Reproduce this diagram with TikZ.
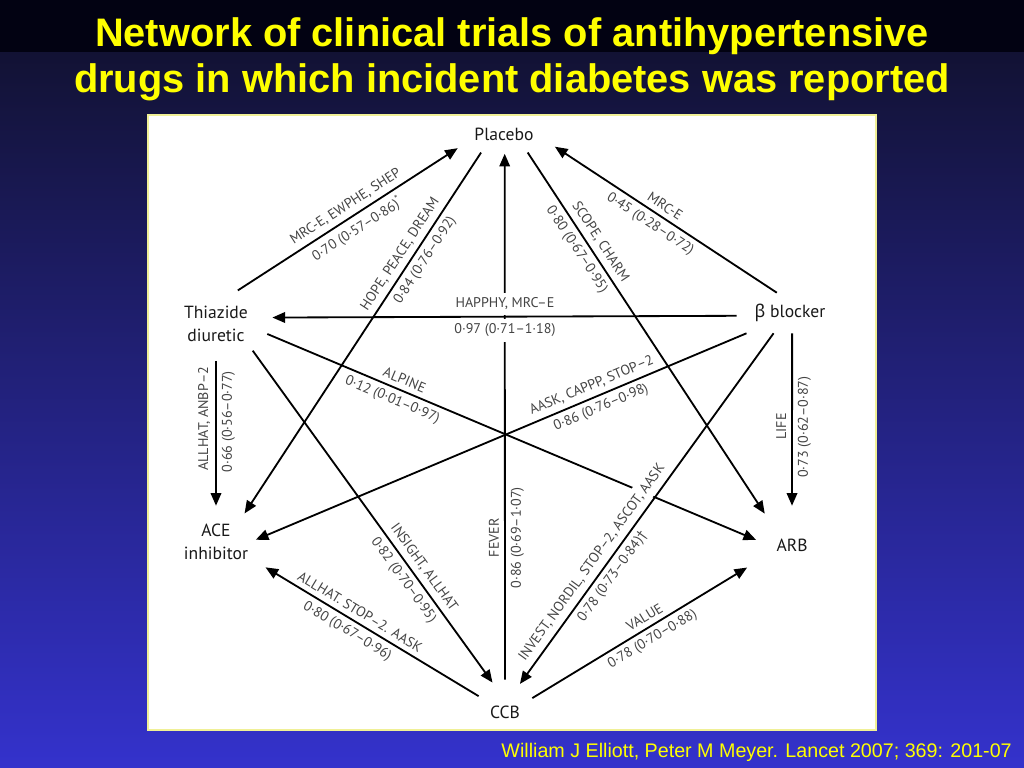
\documentclass[tikz,border=0pt]{standalone}
\usepackage{fontspec}
\setmainfont{PT Sans}
\newfontfamily\slidefont{Liberation Sans}
\newfontfamily\greekfont{Noto Sans}
\usetikzlibrary{arrows.meta, shapes.geometric}

\definecolor{slideyellow}{RGB}{255,255,0}
\definecolor{bandtop}{RGB}{2,2,18}
\definecolor{bgtop}{RGB}{18,18,52}
\definecolor{bgbottom}{RGB}{52,50,204}
\definecolor{labelgray}{RGB}{68,68,68}
\definecolor{drugblack}{RGB}{25,25,25}
\definecolor{panelrim}{RGB}{240,240,150}

\begin{document}
\begin{tikzpicture}[x=0.025cm, y=-0.025cm,
  drug/.style={ellipse, inner sep=0pt, text=drugblack, align=center,
    font=\fontsize{12.5}{16.5}\selectfont},
  arr/.style={-{Triangle[length=9pt, width=7.5pt]}, line width=1.3pt},
  lbl/.style={text=labelgray, inner sep=3.5pt, font=\fontsize{10}{12}\selectfont},
  cut/.style={lbl, fill=white}]

  \useasboundingbox (0,0) rectangle (1024,768);

  % Slide background and white panel
  \shade[top color=bgtop, bottom color=bgbottom] (0,52) rectangle (1024,768);
  \fill[bandtop] (0,0) rectangle (1024,52);
  \draw[panelrim, line width=1pt, fill=white] (148,115) rectangle (876,730);

  % Title and source
  \node[font=\slidefont\bfseries\fontsize{28.3}{32.5}\selectfont, text=slideyellow, align=center]
    (title) at (512,59) {Network of clinical trials of antihypertensive\\drugs in which incident diabetes was reported};
  \node[font=\slidefont\fontsize{14}{16}\selectfont, text=slideyellow, anchor=base east, inner sep=0pt]
    (source) at (1012,757) {William J Elliott, Peter M Meyer. Lancet 2007; 369: 201-07};

  % Drug classes
  \node[drug, minimum width=3.3cm, minimum height=0.975cm] (plc) at (504,134) {Placebo};
  \node[drug, minimum width=2.65cm, minimum height=1.825cm] (thz) at (216,324) {Thiazide\\diuretic};
  \node[drug, rectangle, minimum width=2.65cm, minimum height=1cm] (bb) at (790,313) {{\greekfont β} blocker};
  \node[drug, minimum width=2.3cm, minimum height=1.8cm] (ace) at (216,542) {ACE\\inhibitor};
  \node[drug, minimum width=2.25cm, minimum height=1.95cm] (arb) at (792,545) {ARB};
  \node[drug, minimum width=1.5cm, minimum height=1.6cm] (ccb) at (505,712) {CCB};

  % Trials against placebo
  \draw[arr] (ccb.90) -- (plc.272)
    node[lbl, rotate=90, anchor=south, pos=0.27] (fever1) {FEVER}
    node[lbl, rotate=90, anchor=north, pos=0.27] (fever2) {0·86 (0·69–1·07)};
  \draw[arr] (thz.57) -- (plc.197)
    node[lbl, sloped, above, pos=0.52] (mrc1) {MRC-E, EWPHE, SHEP}
    node[lbl, sloped, below, pos=0.51] (mrc2) {0·70 (0·57–0·86)\textsuperscript{*}};
  \draw[arr] (plc.219) -- (ace.45)
    node[lbl, sloped, above, pos=0.30] (hope1) {HOPE, PEACE, DREAM}
    node[lbl, sloped, below, pos=0.28] (hope2) {0·84 (0·76–0·92)};
  \draw[arr] (plc.322) -- (arb.131)
    node[lbl, sloped, above, pos=0.265] (scope1) {SCOPE, CHARM}
    node[lbl, sloped, below, pos=0.25] (scope2) {0·80 (0·67–0·95)};
  \draw[arr] (bb.123) -- (plc.346)
    node[lbl, sloped, above, pos=0.53] (mrcb1) {MRC-E}
    node[lbl, sloped, below, pos=0.54] (mrcb2) {0·45 (0·28–0·72)};

  % Active comparisons
  \draw[arr] (thz.270) -- (ace.90)
    node[lbl, rotate=90, anchor=south, pos=0.40] (allhat1) {ALLHAT, ANBP–2}
    node[lbl, rotate=90, anchor=north, pos=0.42] (allhat2) {0·66 (0·56–0·77)};
  \draw[arr, shorten >=-6.4pt] (thz.349) -- (arb.169)
    node[lbl, sloped, above, pos=0.277] (alpine1) {ALPINE}
    node[lbl, sloped, below, pos=0.27] (alpine2) {0·12 (0·01–0·97)};
  \draw[arr] (thz.324) -- (ccb.113)
    node[lbl, sloped, above, pos=0.674] (insight1) {INSIGHT, ALLHAT}
    node[lbl, sloped, below, pos=0.67] (insight2) {0·82 (0·70–0·95)};
  \draw[arr, shorten >=-4.7pt] (bb.205) -- (ace.6)
    node[lbl, sloped, above, pos=0.31] (aask1) {AASK, CAPPP, STOP–2}
    node[lbl, sloped, below, pos=0.31] (aask2) {0·86 (0·76–0·98)};
  \draw[arr, shorten >=8.5pt] (ccb.149) -- (ace.334)
    node[lbl, sloped, above, pos=0.556] (stop1) {ALLHAT. STOP–2. AASK}
    node[lbl, sloped, below, pos=0.56] (stop2) {0·80 (0·67–0·96)};
  \draw[arr] (bb.276) -- (arb.90)
    node[lbl, rotate=90, anchor=south, pos=0.54] (life1) {LIFE}
    node[lbl, rotate=90, anchor=north, pos=0.545] (life2) {0·73 (0·62–0·87)};
  \draw[arr, shorten >=4.5pt] (ccb.27) -- (arb.206)
    node[lbl, sloped, above, pos=0.535] (value1) {VALUE}
    node[lbl, sloped, below, pos=0.517] (value2) {0·78 (0·70–0·88)};
  \draw[arr, shorten >=2.8pt] (bb.183) -- (thz.7)
    node[cut, above=0.7pt, pos=0.495] (happhy1) {HAPPHY, MRC–E}
    node[cut, below=0.7pt, pos=0.495] (happhy2) {0·97 (0·71–1·18)};
  \draw[arr] (bb.231) -- (ccb.62)
    node[cut, sloped, above=0.7pt, pos=0.675] (invest1) {INVEST, NORDIL, STOP–2, ASCOT, AASK}
    node[lbl, sloped, below, pos=0.674] (invest2) {0·78 (0·73–0·84)†};
\end{tikzpicture}
\end{document}
